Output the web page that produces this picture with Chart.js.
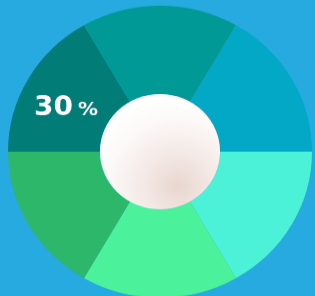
<!DOCTYPE html>
<html>
<head>
<meta charset="utf-8">
<script src="https://cdn.jsdelivr.net/npm/chart.js@4/dist/chart.umd.min.js"></script>
<style>
  html, body { margin: 0; padding: 0; background: #27aadf; overflow: hidden; }
  #wrap { width: 315px; height: 316px; transform: scaleY(0.96); transform-origin: 0 0; }
</style>
</head>
<body>
<div id="wrap"><canvas id="c" width="315" height="316"></canvas></div>
<script>
const categories = ['A', 'B', 'C', 'D', 'E', 'F'];
const values = [1, 1, 1, 1, 1, 1];
const sliceColors = ['#4cf2d7', '#4cf29b', '#2db76b', '#027c77', '#019995', '#02a8c6'];
const labelIndex = 3;
const labelValue = '30';
const labelUnit = '%';

const centerPlugin = {
  id: 'centerSphere',
  afterDatasetsDraw(chart) {
    const ctx = chart.ctx;
    const meta = chart.getDatasetMeta(0);
    const a0 = meta.data[0];
    const x = a0.x, y = a0.y, r = a0.innerRadius, R = a0.outerRadius;
    ctx.save();
    const gx = x + 0.3 * r, gy = y + 0.6 * r;
    const g = ctx.createRadialGradient(gx, gy, 0, gx, gy, 1.55 * r);
    g.addColorStop(0, '#e9d6cf');
    g.addColorStop(0.35, '#f3e8e4');
    g.addColorStop(0.75, '#fcf9f8');
    g.addColorStop(1, '#ffffff');
    ctx.beginPath();
    ctx.arc(x, y, r, 0, Math.PI * 2);
    ctx.fillStyle = g;
    ctx.fill();

    // label in the upper-left slice
    const arc = meta.data[labelIndex];
    const mid = (arc.startAngle + arc.endAngle) / 2;
    const lr = R * 0.714;
    const lx = x + Math.cos(mid) * lr;
    const ly = y + Math.sin(mid) * lr;
    ctx.fillStyle = '#ffffff';
    ctx.textBaseline = 'alphabetic';
    const f1 = 'bold 28px "DejaVu Sans", sans-serif';
    const f2 = 'bold 20px "DejaVu Sans", sans-serif';
    ctx.font = f1;
    const w1 = ctx.measureText(labelValue).width;
    ctx.font = f2;
    const w2 = ctx.measureText(labelUnit).width;
    const gap = 5;
    const total = w1 + gap + w2;
    const sx = lx - total / 2;
    const base = ly + 16;
    ctx.textAlign = 'left';
    ctx.font = f1;
    ctx.fillText(labelValue, sx, base);
    ctx.font = f2;
    ctx.fillText(labelUnit, sx + w1 + gap, base);
    ctx.restore();
  }
};

new Chart(document.getElementById('c'), {
  type: 'doughnut',
  data: {
    labels: categories,
    datasets: [{
      data: values,
      backgroundColor: sliceColors,
      borderWidth: 0,
      hoverOffset: 0
    }]
  },
  options: {
    responsive: false,
    animation: false,
    rotation: 90,
    cutout: '39.5%',
    events: [],
    layout: { padding: { left: 8, right: 3, top: 6, bottom: 6 } },
    plugins: { legend: { display: false }, tooltip: { enabled: false } }
  },
  plugins: [centerPlugin]
});
</script>
</body>
</html>
